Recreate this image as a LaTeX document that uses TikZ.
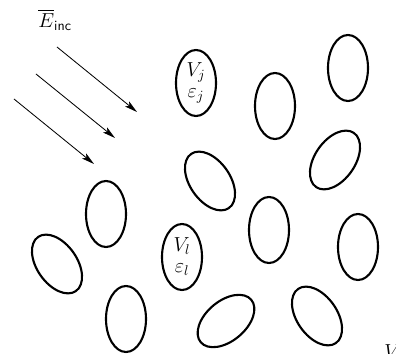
\documentclass[tikz,border=0pt]{standalone}
\usepackage{amsmath,amssymb}
\usepackage{tikz}
\usetikzlibrary{arrows.meta,shapes.geometric}

\begin{document}
\begin{tikzpicture}[x=0.025cm,y=-0.025cm,>={Stealth[length=9pt,width=4.6pt,inset=2pt]},every node/.style={font=\Large}]
  \tikzset{
    grain/.style={draw,ellipse,line width=1.5pt,minimum width=1cm,minimum height=1.65cm,inner sep=0pt,align=center},
    wave/.style={->,line width=0.6pt}
  }
  \useasboundingbox (0,0) rectangle (396,354);
  \node (einc) at (55,20) {$\overline{E}_{\textsf{inc}}$};
  \coordinate (a1s) at (57,47);  \coordinate (a1e) at (137,112);
  \coordinate (a2s) at (36,74);  \coordinate (a2e) at (115,138);
  \coordinate (a3s) at (14,99);  \coordinate (a3e) at (94,164);
  \draw[wave] (a1s) -- (a1e);
  \draw[wave] (a2s) -- (a2e);
  \draw[wave] (a3s) -- (a3e);
  \node[grain] (pj) at (196,83) {$V_j$\\[-3pt]$\varepsilon_j$};
  \node[grain] (p2) at (275,106) {};
  \node[grain] (p3) at (348,68) {};
  \node[grain,rotate=-35] (p4) at (335,160) {};
  \node[grain,rotate=35] (p5) at (210,181) {};
  \node[grain] (p6) at (269,230) {};
  \node[grain] (p7) at (358,247) {};
  \node[grain] (pl) at (182,257) {$V_l$\\[-3pt]$\varepsilon_l$};
  \node[grain,rotate=-50] (p9) at (226,321) {};
  \node[grain,rotate=35] (p10) at (317,316) {};
  \node[grain] (p11) at (106,214) {};
  \node[grain,rotate=35] (p12) at (57,264) {};
  \node[grain] (p13) at (126,319) {};
  \node[anchor=west,inner sep=0pt] (vtot) at (384,352) {$V$};
\end{tikzpicture}
\end{document}
